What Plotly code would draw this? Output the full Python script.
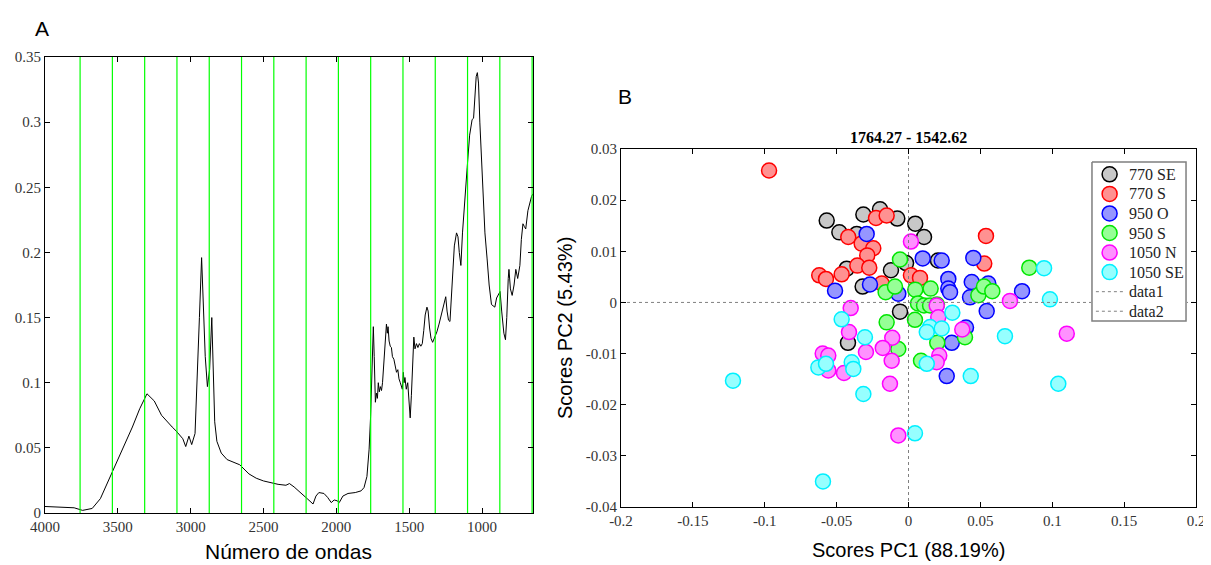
import plotly.graph_objects as go

# ---------------- Panel A data: spectrum ----------------
WAVENUMBER = [4000, 3900, 3800, 3742, 3676, 3620, 3556, 3500, 3450, 3400, 3350, 3300, 3250, 3200,
              3127, 3100, 3054, 3034, 3012, 2993, 2970, 2955, 2940, 2925, 2915, 2900, 2885, 2870,
              2855, 2845, 2835, 2820, 2790, 2750, 2700, 2663, 2600, 2550, 2500, 2450, 2400, 2346,
              2322, 2290, 2250, 2200, 2160, 2140, 2120, 2085, 2060, 2035, 2015, 1995, 1980, 1955,
              1920, 1870, 1830, 1810, 1790, 1775, 1765, 1760, 1752, 1746, 1740, 1732, 1725, 1718,
              1712, 1705, 1698, 1690, 1683, 1670, 1660, 1656, 1650, 1645, 1638, 1630, 1622, 1615,
              1605, 1595, 1587, 1578, 1570, 1561, 1553, 1547, 1540, 1535, 1529, 1520, 1510, 1502,
              1493, 1485, 1475, 1468, 1460, 1450, 1440, 1430, 1420, 1410, 1400, 1390, 1378, 1370,
              1360, 1350, 1339, 1325, 1310, 1295, 1280, 1265, 1249, 1240, 1230, 1220, 1205, 1190,
              1175, 1165, 1156, 1145, 1134, 1120, 1102, 1085, 1068, 1058, 1048, 1040, 1032, 1024,
              1015, 1000, 990, 980, 965, 951, 935, 912, 900, 876, 865, 850, 839, 830, 820, 815,
              805, 793, 780, 768, 755, 740, 730, 719, 710, 700, 685, 670, 660, 650]
ABSORBANCE = [0.005, 0.0045, 0.004, 0.002, 0.0035, 0.011, 0.027, 0.041, 0.054, 0.066, 0.080, 0.0915,
              0.086, 0.075, 0.066, 0.063, 0.057, 0.051, 0.059, 0.0525, 0.061, 0.10, 0.15, 0.196,
              0.16, 0.12, 0.097, 0.11, 0.15, 0.10, 0.07, 0.055, 0.046, 0.041, 0.039, 0.037, 0.030,
              0.0267, 0.0246, 0.0233, 0.022, 0.0213, 0.0226, 0.020, 0.0157, 0.011, 0.0069, 0.013,
              0.0157, 0.015, 0.012, 0.008, 0.010, 0.0094, 0.008, 0.013, 0.015, 0.0157, 0.017,
              0.0195, 0.028, 0.049, 0.074, 0.09, 0.125, 0.143, 0.12, 0.085, 0.092, 0.088, 0.10,
              0.093, 0.097, 0.094, 0.10, 0.122, 0.14, 0.145, 0.138, 0.143, 0.132, 0.128, 0.127,
              0.12, 0.118, 0.113, 0.108, 0.11, 0.103, 0.10, 0.097, 0.095, 0.108, 0.10, 0.104,
              0.095, 0.10, 0.09, 0.073, 0.09, 0.125, 0.135, 0.126, 0.13, 0.127, 0.13, 0.128, 0.13,
              0.14, 0.152, 0.158, 0.155, 0.142, 0.134, 0.131, 0.135, 0.139, 0.145, 0.152, 0.16,
              0.166, 0.155, 0.148, 0.147, 0.175, 0.205, 0.215, 0.212, 0.20, 0.19, 0.215, 0.24,
              0.265, 0.29, 0.302, 0.303, 0.32, 0.335, 0.338, 0.33, 0.30, 0.26, 0.235, 0.215, 0.195,
              0.175, 0.16, 0.158, 0.165, 0.17, 0.155, 0.138, 0.133, 0.15, 0.18, 0.187, 0.172,
              0.167, 0.175, 0.187, 0.18, 0.19, 0.21, 0.222, 0.22, 0.218, 0.232, 0.24, 0.243, 0.245]
GREEN_LINES = [3759.12, 3537.47, 3315.82, 3094.17, 2872.52, 2650.87, 2429.22, 2207.57, 1985.92,
               1764.27, 1542.62, 1320.97, 1099.32, 877.67, 656.02]
A_XTICKS = [4000, 3500, 3000, 2500, 2000, 1500, 1000]
A_YTICKS = [0, 0.05, 0.1, 0.15, 0.2, 0.25, 0.3, 0.35]

# ---------------- Panel B data: PCA scores ----------------
GROUPS = ["770 SE", "770 S", "950 O", "950 S", "1050 N", "1050 SE"]
PC1 = {
    "770 SE": [-0.0569, -0.0481, -0.0314, -0.0198, -0.0078, 0.0047, 0.0108, -0.0360, -0.0430,
               -0.0122, -0.0017, -0.0319, -0.0059, -0.0421, 0.0205],
    "770 S": [-0.0970, -0.0226, -0.0152, -0.0419, -0.0326, -0.0245, -0.0287, -0.0356, -0.0273,
              -0.0465, -0.0621, -0.0574, -0.0186, 0.0017, 0.0080, 0.0539, 0.0527],
    "950 O": [-0.0291, -0.0511, -0.0268, -0.0071, 0.0099, 0.0231, 0.0451, 0.0277, 0.0277, 0.0289,
              0.0440, 0.0428, 0.0555, 0.0544, 0.0790, 0.0400, 0.0301, 0.0266],
    "950 S": [-0.0059, -0.0159, -0.0094, 0.0047, 0.0154, 0.0066, 0.0108, 0.0150, 0.0198, 0.0045,
              -0.0152, -0.0071, 0.0200, 0.0393, 0.0087, 0.0486, 0.0525, 0.0583, 0.0840],
    "1050 N": [0.0017, -0.0402, -0.0414, -0.0597, -0.0558, -0.0558, -0.0449, -0.0296, -0.0113,
               -0.0179, -0.0117, -0.0129, -0.0071, 0.0196, 0.0207, 0.0374, 0.0706, 0.1101, 0.0214,
               0.0196],
    "1050 SE": [-0.0465, -0.0303, -0.0627, -0.0574, -0.0395, -0.0384, -0.0314, 0.0045, 0.0305,
                0.0150, 0.0127, 0.0231, 0.0943, 0.0984, 0.0671, 0.0127, 0.0433, 0.1042, -0.1221,
                -0.0595],
}
PC2 = {
    "770 SE": [0.0160, 0.0137, 0.0172, 0.0182, 0.0164, 0.0154, 0.0128, 0.0134, 0.0066, 0.0063,
               0.0077, 0.0031, -0.0018, -0.0079, 0.0082],
    "770 S": [0.0258, 0.0165, 0.0170, 0.0128, 0.0115, 0.0106, 0.0092, 0.0072, 0.0068, 0.0055,
              0.0053, 0.0046, 0.0037, 0.0053, 0.0048, 0.0130, 0.0076],
    "950 O": [0.0134, 0.0023, 0.0035, 0.0017, 0.0086, 0.0082, 0.0087, 0.0046, 0.0027, 0.0020,
              0.0040, 0.0010, 0.0037, -0.0017, 0.0022, -0.0049, -0.0079, -0.0144],
    "950 S": [0.0084, 0.0020, 0.0031, 0.0025, 0.0027, -0.0002, -0.0006, -0.0006, -0.0004, -0.0034,
              -0.0039, -0.0091, -0.0079, -0.0068, -0.0114, 0.0014, 0.0031, 0.0022, 0.0068],
    "1050 N": [0.0119, -0.0011, -0.0058, -0.0100, -0.0104, -0.0133, -0.0138, -0.0097, -0.0069,
               -0.0089, -0.0114, -0.0159, -0.0260, -0.0006, -0.0029, -0.0053, 0.0003, -0.0061,
               -0.0104, -0.0117],
    "1050 SE": [-0.0033, -0.0068, -0.0127, -0.0120, -0.0117, -0.0130, -0.0179, -0.0256, -0.0020,
                -0.0048, -0.0058, -0.0051, 0.0067, 0.0006, -0.0066, -0.0120, -0.0144, -0.0159,
                -0.0153, -0.0350],
}
LINE_NAMES = ["data1", "data2"]
B_XTICKS = [-0.2, -0.15, -0.1, -0.05, 0, 0.05, 0.1, 0.15, 0.2]
B_XLABELS = ["-0.2", "-0.15", "-0.1", "-0.05", "0", "0.05", "0.1", "0.15", "0.2"]
B_YTICKS = [-0.04, -0.03, -0.02, -0.01, 0, 0.01, 0.02, 0.03]
B_YLABELS = ["-0.04", "-0.03", "-0.02", "-0.01", "0", "0.01", "0.02", "0.03"]

FILL = {"770 SE": "rgb(200,200,200)", "770 S": "rgb(255,145,145)", "950 O": "rgb(150,150,255)",
        "950 S": "rgb(150,255,150)", "1050 N": "rgb(255,145,255)", "1050 SE": "rgb(150,255,255)"}
EDGE = {"770 SE": "rgb(0,0,0)", "770 S": "rgb(255,0,0)", "950 O": "rgb(0,0,255)",
        "950 S": "rgb(0,230,0)", "1050 N": "rgb(255,0,255)", "1050 SE": "rgb(0,240,255)"}
DOT = dict(color="#808080", width=1, dash="dot")

# page offset (body margin) compensation: picture px = figure px + OFF
OFF = 8
W, H = 1211 - OFF, 565 - OFF
SERIF = "Liberation Serif"
SANS = "Liberation Sans"
MSIZE = 15


def PX(x):
    return (x - OFF) / W


def PY(y):
    return 1 - (y - OFF) / H


fig = go.Figure()

# ---- panel A ----
fig.add_trace(go.Scatter(x=WAVENUMBER, y=ABSORBANCE, mode="lines",
                         line=dict(color="black", width=1), showlegend=False,
                         xaxis="x", yaxis="y", hoverinfo="skip"))
gx, gy = [], []
for w in GREEN_LINES:
    gx += [w, w, None]
    gy += [A_YTICKS[0], A_YTICKS[-1], None]
fig.add_trace(go.Scatter(x=gx, y=gy, mode="lines", line=dict(color="#00ff00", width=1.2),
                         showlegend=False, xaxis="x", yaxis="y", hoverinfo="skip"))

# ---- panel B ----
for g in GROUPS:
    fig.add_trace(go.Scatter(x=PC1[g], y=PC2[g], mode="markers", name=g, showlegend=False,
                             marker=dict(size=MSIZE, color=FILL[g], line=dict(color=EDGE[g], width=1.5)),
                             xaxis="x2", yaxis="y2"))
fig.add_trace(go.Scatter(x=[B_XTICKS[0], B_XTICKS[-1]], y=[0, 0], mode="lines", name=LINE_NAMES[0],
                         line=DOT, showlegend=False, xaxis="x2", yaxis="y2"))
fig.add_trace(go.Scatter(x=[0, 0], y=[B_YTICKS[0], B_YTICKS[-1]], mode="lines", name=LINE_NAMES[1],
                         line=DOT, showlegend=False, xaxis="x2", yaxis="y2"))

# ---- legend box (own overlay subplot in pixel units) ----
LB_L, LB_R, LB_T, LB_B = 1091, 1187, 161, 322
lw, lh = LB_R - LB_L, LB_B - LB_T
fig.add_trace(go.Scatter(x=[0, lw, lw, 0, 0], y=[0, 0, lh, lh, 0], mode="lines", fill="toself",
                         fillcolor="white", line=dict(color="#7f7f7f", width=1.5),
                         showlegend=False, hoverinfo="skip", xaxis="x3", yaxis="y3"))
labels = GROUPS + LINE_NAMES
step = 19.8
annotations = []
for i, lab in enumerate(labels):
    yc = 12.5 + step * i
    if i < len(GROUPS):
        fig.add_trace(go.Scatter(x=[18], y=[yc], mode="markers", showlegend=False, hoverinfo="skip",
                                 marker=dict(size=MSIZE, color=FILL[lab],
                                             line=dict(color=EDGE[lab], width=1.5)),
                                 xaxis="x3", yaxis="y3"))
    else:
        fig.add_trace(go.Scatter(x=[4, 32], y=[yc, yc], mode="lines", showlegend=False,
                                 hoverinfo="skip", line=DOT, xaxis="x3", yaxis="y3"))
    annotations.append(dict(text=lab, x=36, y=yc, xref="x3", yref="y3", xanchor="left",
                            yanchor="middle", showarrow=False,
                            font=dict(family=SERIF, size=16, color="#222222")))

tickfont = dict(family=SERIF, size=15, color="#333333")
common = dict(showline=True, linecolor="black", linewidth=1, mirror="ticks", ticks="inside",
              ticklen=5, tickcolor="black", showgrid=False, zeroline=False, tickfont=tickfont,
              automargin=False)
hidden = dict(visible=False, showgrid=False, zeroline=False, automargin=False, fixedrange=True)


def pann(text, x, y, size, family, angle=0, bold=False):
    return dict(text=f"<b>{text}</b>" if bold else text, x=PX(x), y=PY(y), xref="paper",
                yref="paper", xanchor="center", yanchor="middle", showarrow=False, textangle=angle,
                font=dict(family=family, size=size, color="black"))


annotations += [
    pann("A", 42, 28, 21, SANS),
    pann("B", 625, 97, 21, SANS),
    pann("1764.27 - 1542.62", 908, 137, 16, SERIF, bold=True),
    pann("Scores PC2 (5.43%)", 565, 328, 20, SANS, angle=-90),
    pann("Scores PC1 (88.19%)", 908, 550, 20, SANS),
    pann("Número de ondas", 288, 551, 21, SANS),
]

fig.update_layout(
    width=W, height=H, margin=dict(l=0, r=0, t=0, b=0, autoexpand=False),
    paper_bgcolor="white", plot_bgcolor="white", showlegend=False,
    xaxis=dict(domain=[PX(45), PX(533)], range=[4000, 650], tickvals=A_XTICKS, anchor="y", **common),
    yaxis=dict(domain=[PY(513), PY(57)], range=[0, 0.35], tickvals=A_YTICKS, anchor="x", **common),
    xaxis2=dict(domain=[PX(621), PX(1196)], range=[-0.2, 0.2], tickvals=B_XTICKS, ticktext=B_XLABELS,
                anchor="y2", **common),
    yaxis2=dict(domain=[PY(507), PY(149)], range=[-0.04, 0.03], tickvals=B_YTICKS,
                ticktext=B_YLABELS, anchor="x2", **common),
    xaxis3=dict(domain=[PX(LB_L), PX(LB_R)], range=[-1, lw + 1], anchor="y3", **hidden),
    yaxis3=dict(domain=[PY(LB_B), PY(LB_T)], range=[lh + 1, -1], anchor="x3", **hidden),
    annotations=annotations,
)

fig.write_html("out.html")
